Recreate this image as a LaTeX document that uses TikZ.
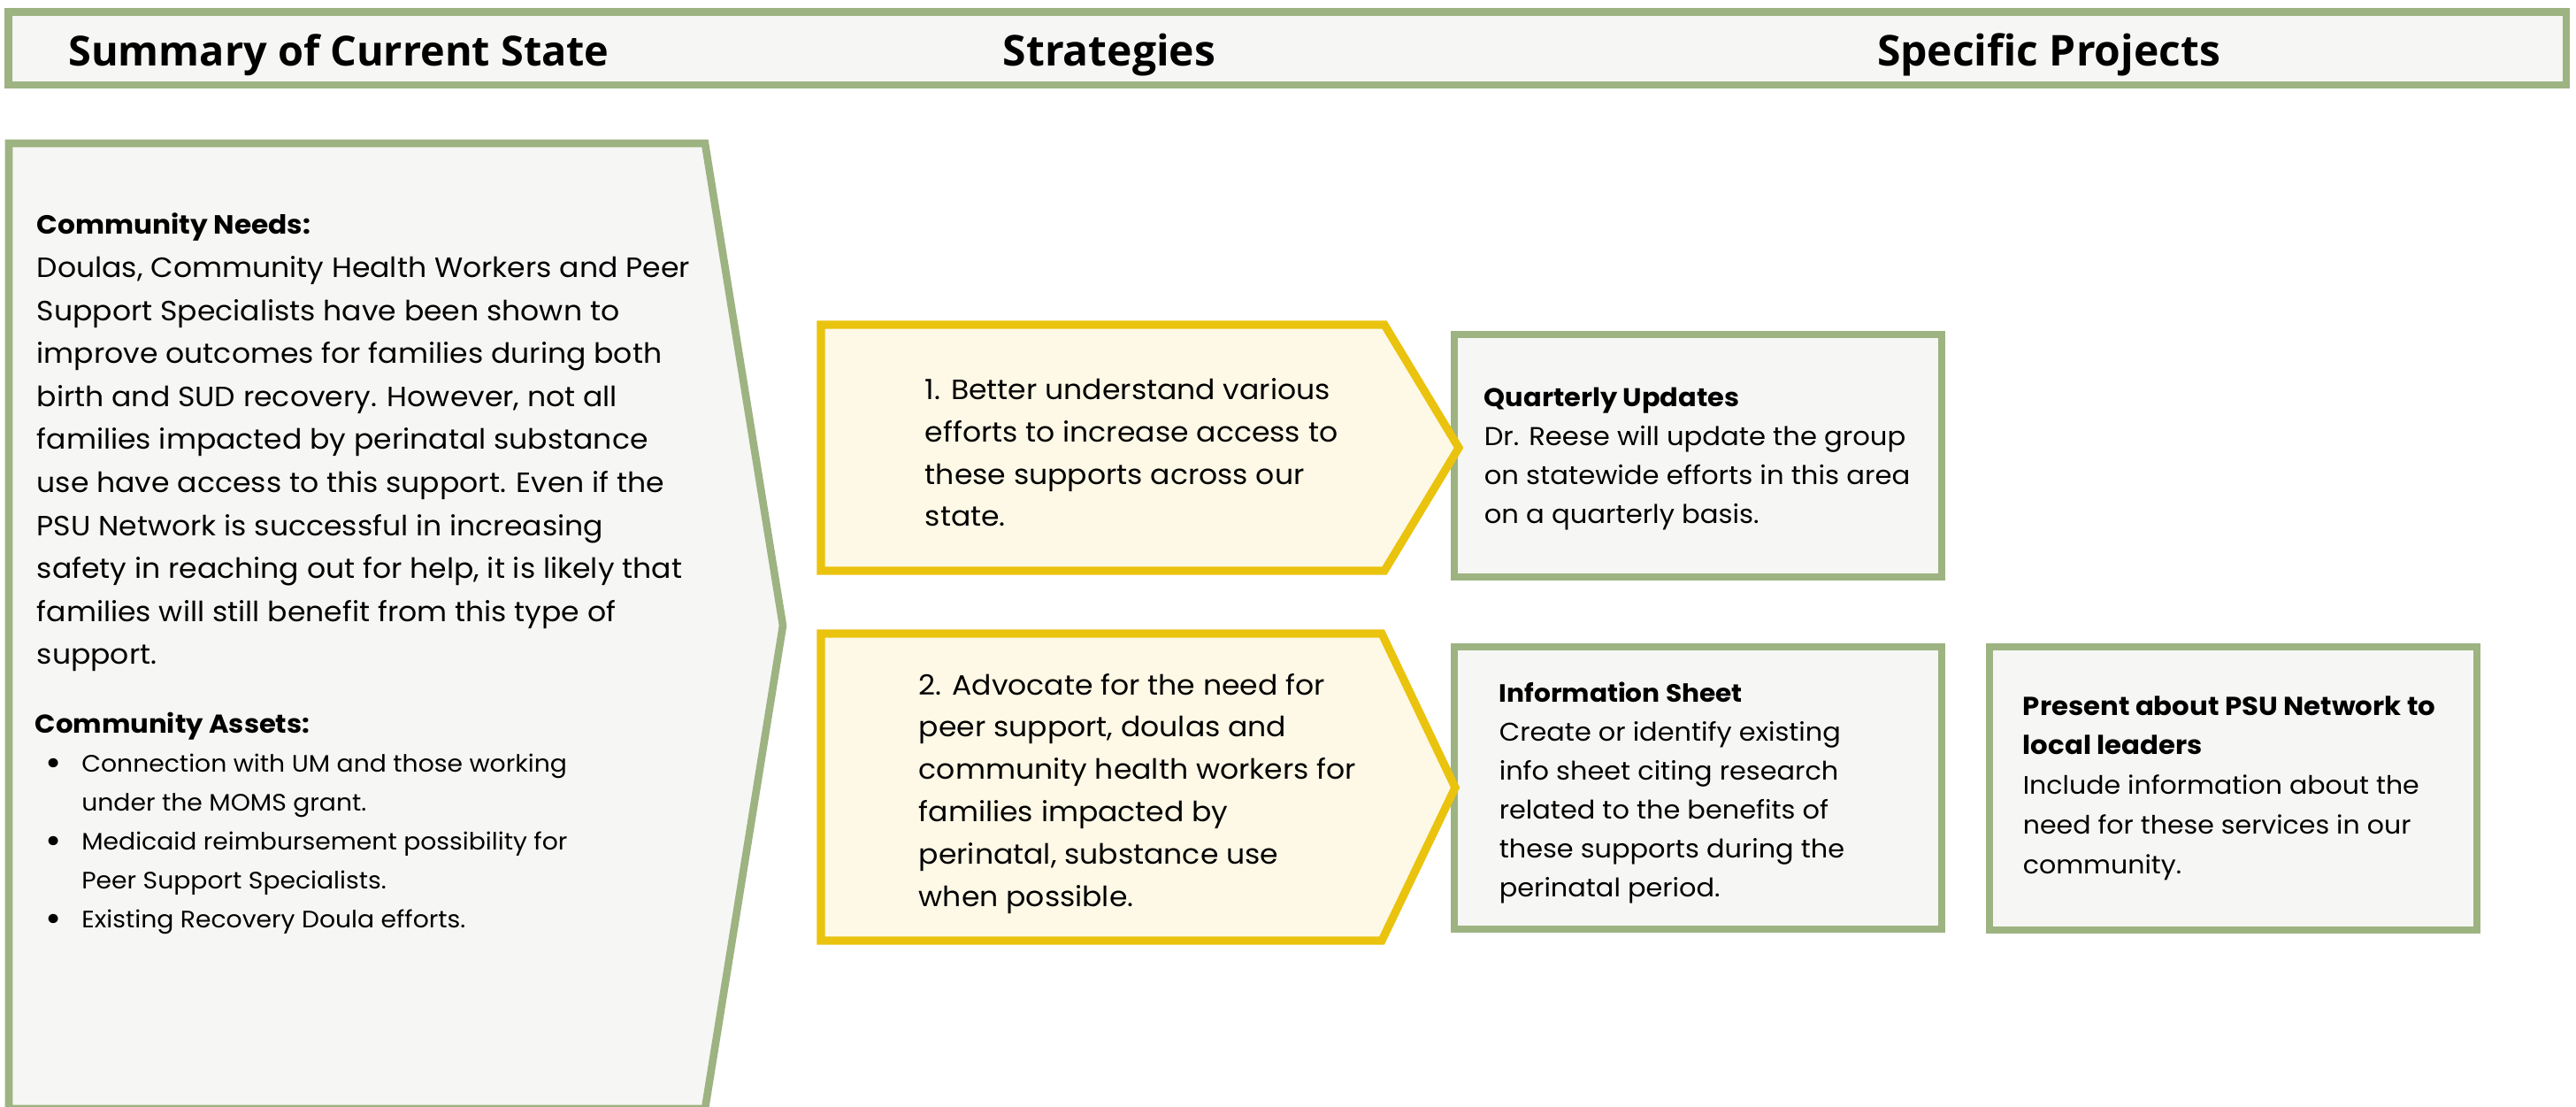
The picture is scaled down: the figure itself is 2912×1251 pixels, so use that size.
\documentclass[tikz,border=0pt]{standalone}
\usepackage{fontspec}
\setmainfont{Poppins}[FakeStretch=1.05]
\newfontfamily\headfont{Open Sans}
\definecolor{sage}{HTML}{9DB381}
\definecolor{panel}{HTML}{F6F6F4}
\definecolor{gold}{HTML}{EAC30E}
\definecolor{cream}{HTML}{FEF9E6}
\newcommand\bigbul{\hspace{3pt}{\fontsize{10.5}{11}\selectfont\raisebox{-1.1pt}{\textbullet}}}
\tikzset{
  greenbox/.style={draw=sage, line width=2.15pt, fill=panel, line join=miter},
  goldbox/.style={draw=gold, line width=2.3pt, fill=cream, line join=miter},
  txt/.style={inner sep=0pt, anchor=base west, text=black},
  head/.style={inner sep=0pt, anchor=base, font=\headfont\bfseries\fontsize{12}{14}\selectfont}
}
\begin{document}
\begin{tikzpicture}[x=0.25pt,y=-0.25pt]
\useasboundingbox[fill=white] (0,0) rectangle (2912,1251);
% header
\draw[greenbox] (9.5,13.3) rectangle (2901,96);
\node[head, font=\headfont\bfseries\fontsize{11.7}{14}\selectfont] (h1) at (383,75) {Summary of Current State};
\node[head] (h2) at (1254,75) {Strategies};
\node[head] (h3) at (2316,75) {Specific Projects};
% left panel
\draw[greenbox] (10,162) -- (797,162) -- (885,707) -- (797,1253) -- (10,1253) -- cycle;
\node[txt] (needs) at (41,265) {\fontsize{7.87}{12.15}\selectfont\begin{tabular}[t]{@{}l@{}}
{\fontsize{7.43}{12.15}\selectfont\bfseries Community Needs:}\\
Doulas, Community Health Workers and Peer\\
Support Specialists have been shown to\\
improve outcomes for families during both\\
birth and SUD recovery. However, not all\\
families impacted by perinatal substance\\
use have access to this support. Even if the\\
PSU Network is successful in increasing\\
safety in reaching out for help, it is likely that\\
families will still benefit from this type of\\
support.\end{tabular}};
\node[txt] (assets) at (39,828) {\fontsize{6.72}{11}\selectfont\begin{tabular}[t]{@{}l@{\hspace{5.6pt}}l@{}}
\multicolumn{2}{@{}l@{}}{\fontsize{7.3}{11}\selectfont\bfseries Community Assets:}\\
\bigbul & Connection with UM and those working\\
 & under the MOMS grant.\\
\bigbul & Medicaid reimbursement possibility for\\
 & Peer Support Specialists.\\
\bigbul & Existing Recovery Doula efforts.\end{tabular}};
% project boxes
\draw[greenbox] (1644,378) rectangle (2195,652);
\draw[greenbox] (1644,731) rectangle (2195,1050);
\draw[greenbox] (2249,731) rectangle (2800,1051);
% strategies
\draw[goldbox] (928,367) -- (1565,367) -- (1649,506) -- (1565,645) -- (928,645) -- cycle;
\draw[goldbox] (928,716) -- (1562,716) -- (1645,890) -- (1562,1063) -- (928,1063) -- cycle;
\node[txt] (s1) at (1045,452) {\fontsize{7.87}{11.9}\selectfont\begin{tabular}[t]{@{}l@{}}
1. Better understand various\\
efforts to increase access to\\
these supports across our\\
state.\end{tabular}};
\node[txt] (s2) at (1038,785) {\fontsize{7.87}{11.95}\selectfont\begin{tabular}[t]{@{}l@{}}
2. Advocate for the need for\\
peer support, doulas and\\
community health workers for\\
families impacted by\\
perinatal, substance use\\
when possible.\end{tabular}};
\node[txt] (p1) at (1677,460) {\fontsize{7.3}{11}\selectfont\begin{tabular}[t]{@{}l@{}}
{\fontsize{7.25}{11}\selectfont\bfseries Quarterly Updates}\\
Dr. Reese will update the group\\
on statewide efforts in this area\\
on a quarterly basis.\end{tabular}};
\node[txt] (p2) at (1694,793) {\fontsize{7.23}{11}\selectfont\begin{tabular}[t]{@{}l@{}}
{\fontsize{7.05}{11}\selectfont\bfseries Information Sheet}\\
Create or identify existing\\
info sheet citing research\\
related to the benefits of\\
these supports during the\\
perinatal period.\end{tabular}};
\node[txt] (p3) at (2286,808) {\fontsize{7.15}{11.2}\selectfont\begin{tabular}[t]{@{}l@{}}
{\fontsize{7.33}{11.2}\selectfont\bfseries Present about PSU Network to}\\
{\fontsize{7.33}{11.2}\selectfont\bfseries local leaders}\\
Include information about the\\
need for these services in our\\
community.\end{tabular}};
\end{tikzpicture}
\end{document}
